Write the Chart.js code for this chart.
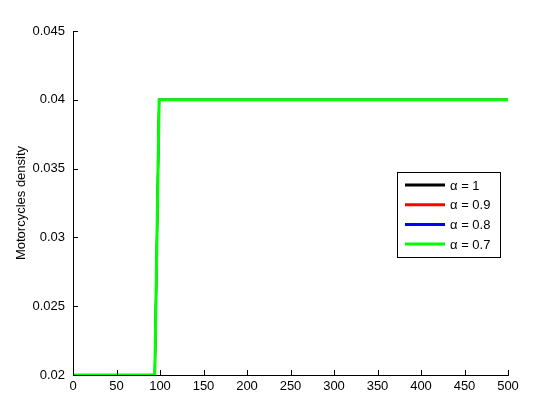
<!DOCTYPE html>
<html>
<head>
<meta charset="utf-8">
<script src="https://cdn.jsdelivr.net/npm/chart.js@4.4.0/dist/chart.umd.min.js"></script>
<style>
  html, body { margin: 0; padding: 0; background: #fff; }
  #wrap { width: 560px; height: 420px; }
</style>
</head>
<body>
<div id="wrap"><canvas id="density-chart" width="560" height="420"></canvas></div>
<script>
// time axis and density values
const timeSteps = [0, 94, 99, 500];
const density1 = [0.02, 0.02, 0.04, 0.04];
const density09 = [0.02, 0.02, 0.04, 0.04];
const density08 = [0.02, 0.02, 0.04, 0.04];
const density07 = [0.02, 0.02, 0.04, 0.04];

const seriesLabels = ["\u03b1 = 1", "\u03b1 = 0.9", "\u03b1 = 0.8", "\u03b1 = 0.7"];
const seriesColors = ["#000000", "#ff0000", "#0000ff", "#00ff00"];
const xTicks = [0, 50, 100, 150, 200, 250, 300, 350, 400, 450, 500];
const yTicks = [0.02, 0.025, 0.03, 0.035, 0.04, 0.045];

const allSeries = [density1, density09, density08, density07];

const datasets = allSeries.map((vals, i) => ({
  label: seriesLabels[i],
  data: timeSteps.map((t, j) => ({ x: t, y: vals[j] })),
  borderColor: seriesColors[i],
  backgroundColor: seriesColors[i],
  // hidden lines a bit thinner so the green one covers them fully
  borderWidth: i === allSeries.length - 1 ? 3 : 2,
  pointRadius: 0,
  tension: 0,
  fill: false,
  order: allSeries.length - i, // last one drawn on top, like the original
}));

const FONT = "'Liberation Sans Narrow', 'Liberation Sans', Arial, sans-serif";

// ticks pointing into the plot, matlab style
const innerTicks = {
  id: "innerTicks",
  afterDraw(chart) {
    const ctx = chart.ctx;
    const xs = chart.scales.x, ys = chart.scales.y;
    ctx.save();
    ctx.strokeStyle = "#000";
    ctx.lineWidth = 1;
    ctx.beginPath();
    xTicks.forEach(v => {
      const px = Math.round(xs.getPixelForValue(v)) + 0.5;
      ctx.moveTo(px, ys.bottom);
      ctx.lineTo(px, ys.bottom - 5);
    });
    yTicks.forEach(v => {
      const py = Math.round(ys.getPixelForValue(v)) + 0.5;
      ctx.moveTo(xs.left, py);
      ctx.lineTo(xs.left + 5, py);
    });
    ctx.stroke();
    ctx.restore();
  }
};

// boxed legend inside the plot
const boxLegend = {
  id: "boxLegend",
  afterDraw(chart) {
    const ctx = chart.ctx;
    const x0 = 397.5, y0 = 172.5, w = 103, h = 85;
    ctx.save();
    ctx.fillStyle = "#fff";
    ctx.fillRect(x0, y0, w, h);
    ctx.strokeStyle = "#000";
    ctx.lineWidth = 1;
    ctx.strokeRect(x0, y0, w, h);
    ctx.font = "13px " + FONT;
    ctx.textBaseline = "middle";
    chart.data.datasets.forEach((ds, i) => {
      const yy = 185 + i * 19.7;
      ctx.strokeStyle = ds.borderColor;
      ctx.lineWidth = 3;
      ctx.beginPath();
      ctx.moveTo(405, yy);
      ctx.lineTo(445, yy);
      ctx.stroke();
      ctx.fillStyle = "#000";
      ctx.fillText(ds.label, 450, yy + 1);
    });
    ctx.restore();
  }
};

const ctxDensity = document.querySelector("#density-chart").getContext("2d");

const densityChart = new Chart(ctxDensity, {
  type: "line",
  data: { datasets: datasets },
  options: {
    responsive: false,
    animation: false,
    layout: { padding: { left: 0, top: 31, right: 52, bottom: 0 } },
    plugins: {
      legend: { display: false },
      tooltip: { enabled: false },
    },
    scales: {
      x: {
        type: "linear",
        min: 0,
        max: 500,
        afterFit: s => { s.height = 45; },
        afterBuildTicks: s => { s.ticks = xTicks.map(v => ({ value: v })); },
        grid: { display: false, drawTicks: false },
        border: { display: true, color: "#000", width: 1 },
        ticks: { color: "#000", padding: 4, maxRotation: 0, font: { family: FONT, size: 13 } },
      },
      y: {
        type: "linear",
        min: 0.02,
        max: 0.045,
        afterFit: s => { s.width = 73; },
        afterBuildTicks: s => { s.ticks = yTicks.map(v => ({ value: v })); },
        grid: { display: false, drawTicks: false },
        border: { display: true, color: "#000", width: 1 },
        ticks: {
          color: "#000",
          padding: 8,
          font: { family: FONT, size: 13 },
          callback: v => String(+v.toFixed(3)),
        },
        title: {
          display: true,
          text: "Motorcycles density",
          color: "#000",
          padding: { top: 14, bottom: 0 },
          font: { family: FONT, size: 13 },
        },
      },
    },
  },
  plugins: [innerTicks, boxLegend],
});
</script>
</body>
</html>
